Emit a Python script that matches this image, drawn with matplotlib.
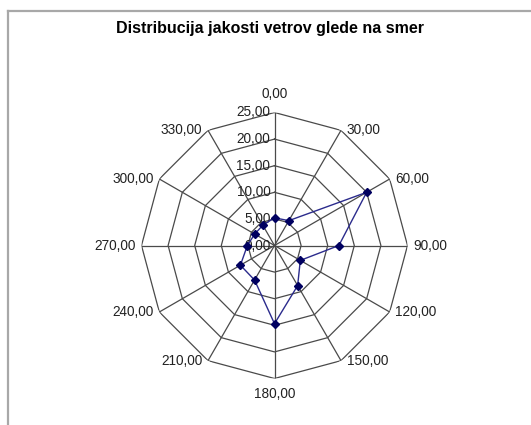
import numpy as np
import matplotlib
matplotlib.use("Agg")
import matplotlib.pyplot as plt
from matplotlib.lines import Line2D

plt.rcParams['font.family'] = ['Liberation Sans', 'DejaVu Sans']

# Data
directions = [0, 30, 60, 90, 120, 150, 180, 210, 240, 270, 300, 330]
category_labels = ["0,00", "30,00", "60,00", "90,00", "120,00", "150,00",
                   "180,00", "210,00", "240,00", "270,00", "300,00", "330,00"]
strengths = [5.2, 5.4, 20.0, 12.1, 5.6, 8.7, 14.7, 7.5, 7.4, 5.1, 4.3, 4.4]
radial_ticks = [0, 5, 10, 15, 20, 25]
radial_labels = ["0,00", "5,00", "10,00", "15,00", "20,00", "25,00"]
title = "Distribucija jakosti vetrov glede na smer"

W, H = 531, 425
fig = plt.figure(figsize=(W / 100, H / 100), dpi=100)

# frame (top and left edges)
fig.add_artist(Line2D([8 / W, 1.0], [1 - 11 / H, 1 - 11 / H], transform=fig.transFigure,
                      color='#a8a8a8', lw=1.6))
fig.add_artist(Line2D([8 / W, 8 / W], [1 - 11 / H, 0], transform=fig.transFigure,
                      color='#a8a8a8', lw=1.6))

fig.text(270 / W, 1 - 29 / H, title, ha='center', va='center',
         fontsize=11.5, fontweight='bold')

cx, cy, R = 274.5, 245.5, 133
ax = fig.add_axes([(cx - R) / W, 1 - (cy + R) / H, 2 * R / W, 2 * R / H], projection='polar')
ax.set_theta_zero_location('N')
ax.set_theta_direction(-1)
ax.set_ylim(0, 25)
ax.grid(False)
ax.spines['polar'].set_visible(False)
ax.set_xticks([])
ax.set_yticks([])
ax.patch.set_alpha(0)

theta = np.deg2rad(directions)
theta_closed = np.append(theta, theta[0])

gcol = '#4a4a4a'
for r in radial_ticks[1:]:
    ax.plot(theta_closed, [r] * len(theta_closed), color=gcol, lw=0.9, zorder=1)
for t in theta:
    ax.plot([t, t], [0, radial_ticks[-1]], color=gcol, lw=0.9, zorder=1)

# radial labels
for r, lab in zip(radial_ticks, radial_labels):
    ax.annotate(lab, xy=(0, r), xytext=(-3, 0), textcoords='offset points',
                ha='right', va='center', fontsize=9.8, color='#222222', zorder=2)

# category labels
for d, t, lab in zip(directions, theta, category_labels):
    if d == 0:
        off, ha, va = (0, 8), 'center', 'bottom'
    elif d == 180:
        off, ha, va = (0, -6), 'center', 'top'
    elif d < 180:
        off, ha, va = (4, 0), 'left', 'center'
    else:
        off, ha, va = (-4, 0), 'right', 'center'
    ax.annotate(lab, xy=(t, radial_ticks[-1]), xytext=off, textcoords='offset points',
                ha=ha, va=va, fontsize=9.8, color='#222222', annotation_clip=False)

vals_closed = strengths + [strengths[0]]
ax.plot(theta_closed, vals_closed, color='#2b2b8c', lw=1.0, zorder=3)
ax.plot(theta, strengths, linestyle='none', marker='D', markersize=4,
        color='#000060', zorder=4)

fig.savefig('out.png', dpi=100)
